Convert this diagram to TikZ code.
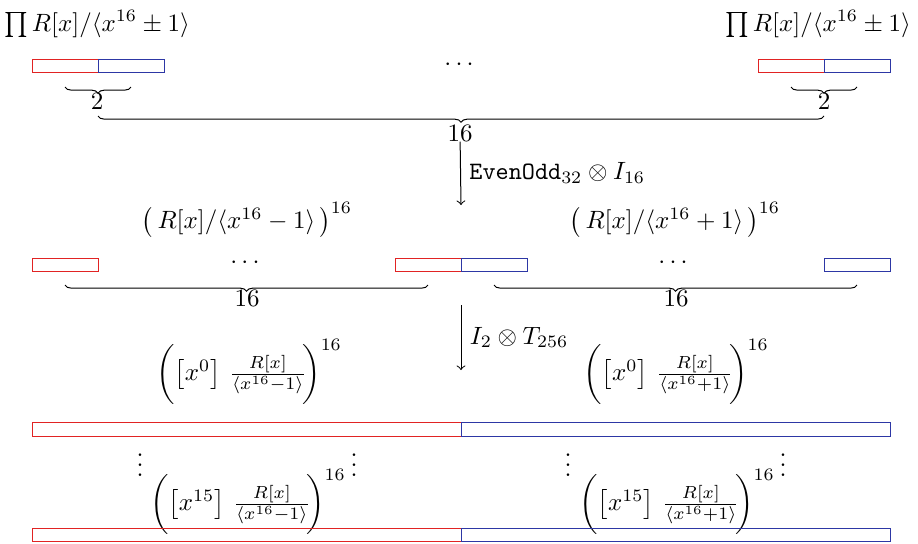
\documentclass[tikz,border=0pt]{standalone}
\usetikzlibrary{decorations.pathreplacing}
\definecolor{evenred}{RGB}{225,35,35}
\definecolor{oddblue}{RGB}{45,55,165}
\tikzset{
 ev/.style={draw=evenred},
 od/.style={draw=oddblue},
 br/.style={decorate,decoration={brace,mirror,amplitude=2.5pt}},
 lbl/.style={inner sep=0pt},
}
\begin{document}
\begin{tikzpicture}[x=0.4pt,y=-0.4pt]
 \useasboundingbox (0,0) rectangle (918,543);
 % first row: pairs of x^16-1 / x^16+1
 \node[lbl] (ring-l) at (97,24) {$\prod R[x]/\langle x^{16}\pm 1\rangle$};
 \node[lbl] (ring-r) at (818,24) {$\prod R[x]/\langle x^{16}\pm 1\rangle$};
 \draw[ev] (32,59) rectangle (98,72);
 \draw[od] (98,59) rectangle (164,72);
 \draw[ev] (758,59) rectangle (824,72);
 \draw[od] (824,59) rectangle (890,72);
 \node (dots-t) at (459,65) {$\cdots$};
 \draw[br] (65,87) -- (131,87);
 \node[lbl] (two-l) at (97,101) {$2$};
 \draw[br] (791,87) -- (857,87);
 \node[lbl] (two-r) at (824,101) {$2$};
 \draw[br] (98,116) -- (824,116);
 \node[lbl] (sixteen-t) at (460,133) {$16$};
 \coordinate (eo-end) at (461,205);
 \draw[->] (sixteen-t) -- node[right] {$\texttt{EvenOdd}_{32}\otimes I_{16}$} (eo-end);
 % second row: all x^16-1 left, all x^16+1 right
 \node (minus-m) at (247,220) {$\left(\,R[x]/\langle x^{16}-1\rangle\,\right)^{16}$};
 \node (plus-m) at (675,220) {$\left(\,R[x]/\langle x^{16}+1\rangle\,\right)^{16}$};
 \draw[ev] (32,258) rectangle (98,271);
 \draw[ev] (395,258) rectangle (461,271);
 \draw[od] (461,258) rectangle (527,271);
 \draw[od] (824,258) rectangle (890,271);
 \node (dots-ml) at (245,263) {$\cdots$};
 \node (dots-mr) at (673,263) {$\cdots$};
 \draw[br] (65,285) -- (428,285);
 \node[lbl] (sixteen-ml) at (247,298) {$16$};
 \draw[br] (494,285) -- (857,285);
 \node[lbl] (sixteen-mr) at (676,298) {$16$};
 \coordinate (tw-start) at (461,305);
 \coordinate (tw-end) at (461,370);
 \draw[->] (tw-start) -- node[right] {$I_2\otimes T_{256}$} (tw-end);
 % third row: coefficients x^0 ... x^15
 \node (c0-l) at (249,372) {$\bigg(\!\left[x^0\right]\,\frac{R[x]}{\left\langle x^{16}-1\right\rangle}\!\bigg)^{16}$};
 \node (c0-r) at (676,372) {$\bigg(\!\left[x^0\right]\,\frac{R[x]}{\left\langle x^{16}+1\right\rangle}\!\bigg)^{16}$};
 \draw[ev] (32,422) rectangle (461,436);
 \draw[od] (461,422) rectangle (890,436);
 \node (vd-1) at (140,458) {$\vdots$};
 \node (vd-2) at (354,458) {$\vdots$};
 \node (vd-3) at (568,458) {$\vdots$};
 \node (vd-4) at (783,458) {$\vdots$};
 \node (c15-l) at (248,502) {$\bigg(\!\left[x^{15}\right]\,\frac{R[x]}{\left\langle x^{16}-1\right\rangle}\!\bigg)^{16}$};
 \node (c15-r) at (677,502) {$\bigg(\!\left[x^{15}\right]\,\frac{R[x]}{\left\langle x^{16}+1\right\rangle}\!\bigg)^{16}$};
 \draw[ev] (32,528) rectangle (461,541);
 \draw[od] (461,528) rectangle (890,541);
\end{tikzpicture}
\end{document}
